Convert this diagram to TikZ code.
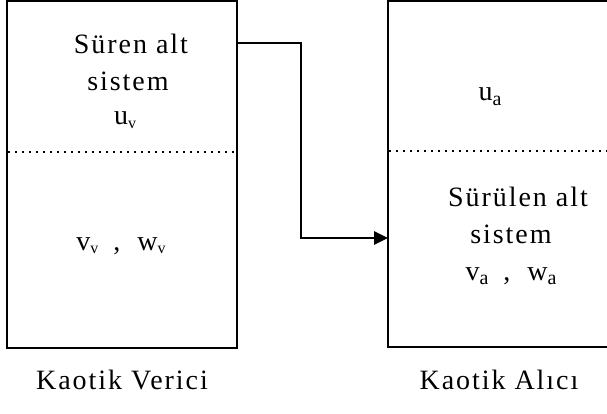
\documentclass[tikz,border=0pt]{standalone}
\usepackage{fontspec}
\setmainfont{Liberation Serif}
\newfontfamily\spfont[LetterSpace=7]{Liberation Serif}
\usetikzlibrary{arrows.meta}
\newcommand{\sbv}[1]{\raisebox{-3.5pt}{\fontsize{16}{16}\selectfont #1}}
\newcommand{\sba}[1]{\raisebox{-4.5pt}{\fontsize{20}{20}\selectfont #1}}
\newcommand{\cm}{\hspace*{15pt},\hspace*{17pt}}
\tikzset{
  lbl/.style={inner sep=0pt, anchor=base, font=\spfont\fontsize{28}{28}\selectfont},
  boxline/.style={line width=1.5pt},
  sep/.style={line width=1.5pt, dash pattern=on 1.5pt off 5.5pt},
  conn/.style={line width=2.8pt, -{Triangle[length=14pt,width=13pt]}}
}
\begin{document}
\begin{tikzpicture}[x=1pt,y=-1pt]
\useasboundingbox (0,0) rectangle (607,414);
% boxes
\draw[boxline] (7,1) rectangle (237,348);
\draw[boxline] (388,1) rectangle (620,347);
\draw[sep] (8,152) -- (236,152);
\draw[sep] (389,151) -- (607,151);
% anchors for connector
\coordinate (src) at (237,43);
\coordinate (bend1) at (301,43);
\coordinate (bend2) at (301,238);
\coordinate (dst) at (388,238);
\draw[conn] (src) -- (bend1) -- (bend2) -- (dst);
% left texts
\node[lbl] (t1) at (131,54) {Süren alt};
\node[lbl] (t2) at (128,91) {sistem};
\node[lbl] (t3) at (125,125) {u\sbv{v}};
\node[lbl] (t4) at (121,250) {v\sbv{v}\cm w\sbv{v}};
\node[lbl] (t5) at (122,389) {Kaotik Verici};
% right texts
\node[lbl] (r1) at (490,101) {u\sba{a}};
\node[lbl] (r2) at (518,206) {Sürülen alt};
\node[lbl] (r3) at (511,243) {sistem};
\node[lbl] (r4) at (511,280) {v\sba{a}\cm w\sba{a}};
\node[lbl] (r5) at (499,389) {Kaotik Alıcı};
\end{tikzpicture}
\end{document}
